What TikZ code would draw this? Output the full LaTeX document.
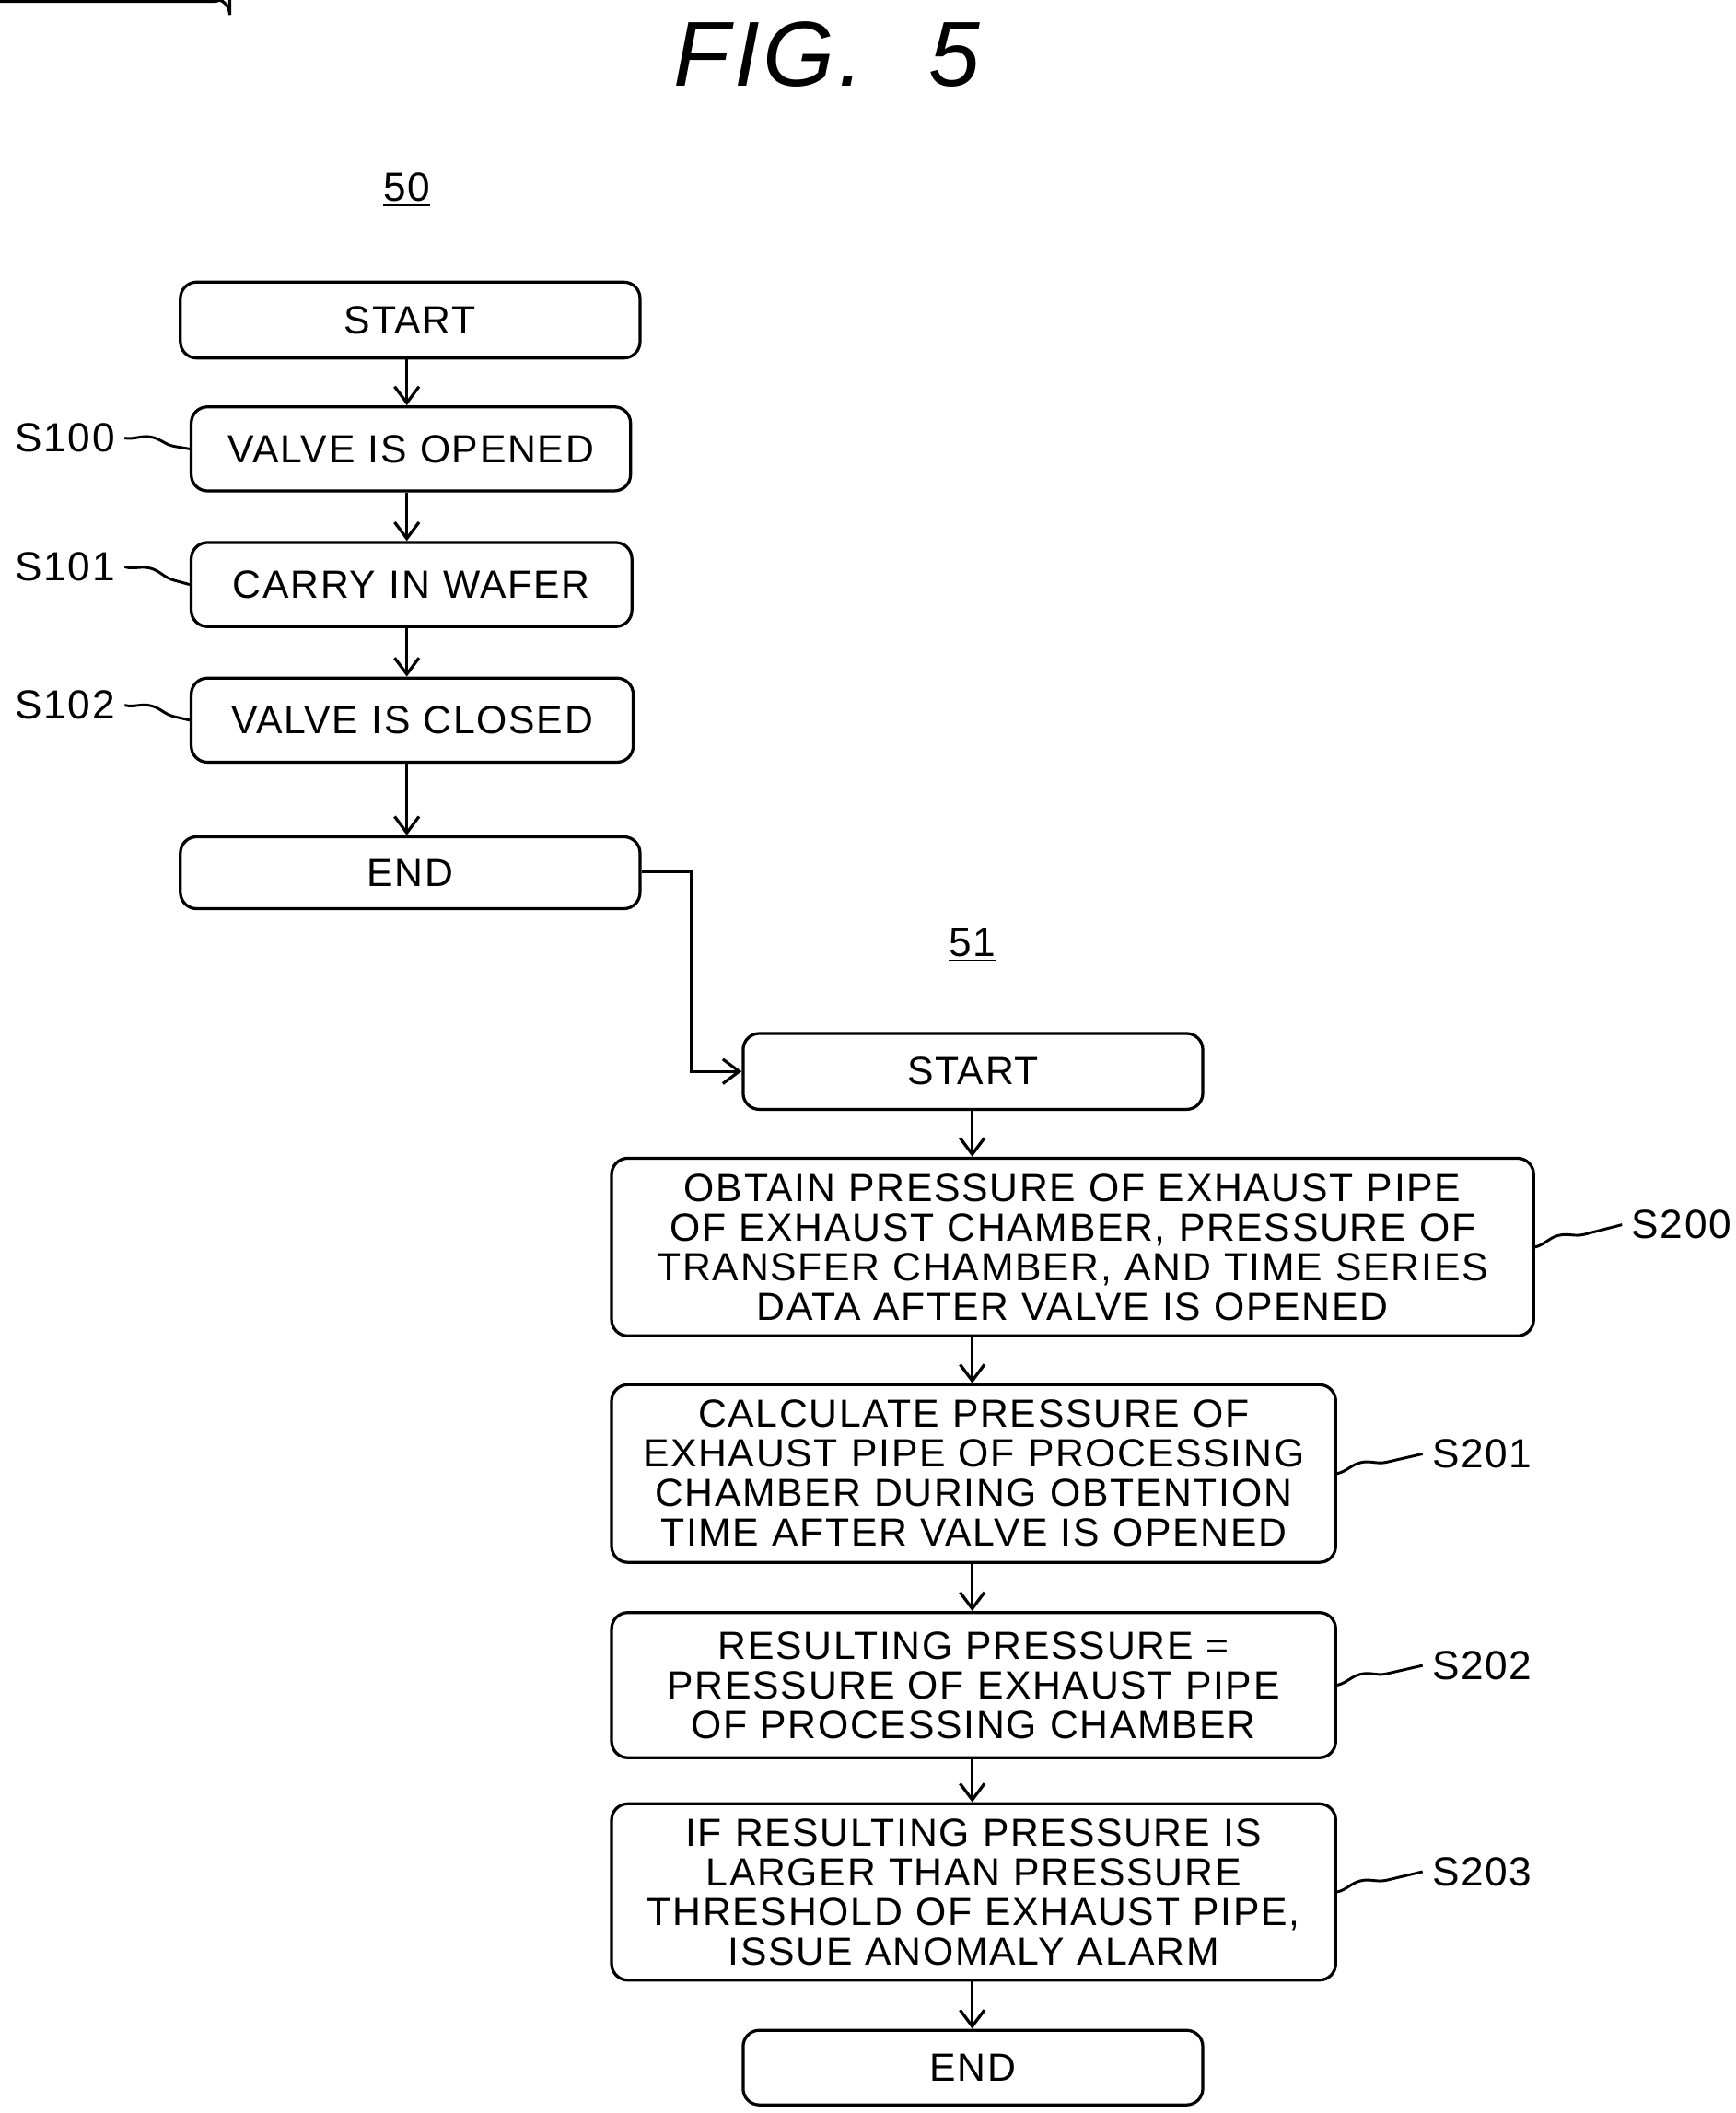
\documentclass[tikz,border=0pt]{standalone}
\usepackage{fontspec}
\setmainfont{Liberation Sans}[WordSpace=2.2,LetterSpace=4]
\usetikzlibrary{arrows.meta,decorations.pathmorphing}
\begin{document}
\begin{tikzpicture}[x=0.5pt,y=-0.5pt,
 box/.style={draw,line width=1.1pt,rounded corners=6pt,inner sep=0pt,align=center,
   font=\fontsize{14.5}{14.6}\selectfont},
 arr/.style={-{Straight Barb[length=6pt,width=9pt]},line width=1.1pt},
 lab/.style={font=\fontsize{15}{16}\selectfont},
 wav/.style={line width=1pt,decorate,decoration={snake,amplitude=2pt,segment length=30pt}}]
\useasboundingbox (0,0) rectangle (1280,1558);
\node[font=\fontsize{34}{36}\selectfont\itshape] (title) at (610,40) {FIG. 5};
\node[lab] (n50) at (300,140) {\underline{50}};
\node[lab] (n51) at (717,697) {\underline{51}};
\node[box,minimum width=339pt/2*2/2,text width=0pt] at (0,0) {};
\newcommand\bx[6]{\node[box,minimum width={(#3-#2)*0.5pt},minimum height={(#5-#4)*0.5pt},text width={(#3-#2)*0.5pt-8pt}] (#1) at ({(#2+#3)/2},{(#4+#5)/2}) {#6};}
\bx{st1}{133}{472}{208}{264}{START}
\bx{s100}{141}{465}{300}{362}{VALVE IS OPENED}
\bx{s101}{141}{466}{400}{462}{CARRY IN WAFER}
\bx{s102}{141}{467}{500}{562}{VALVE IS CLOSED}
\bx{en1}{133}{472}{617}{670}{END}
\bx{st2}{548}{887}{762}{818}{START}
\bx{s200}{451}{1131}{854}{985}{OBTAIN PRESSURE OF EXHAUST PIPE\\OF EXHAUST CHAMBER, PRESSURE OF\\TRANSFER CHAMBER, AND TIME SERIES\\DATA AFTER VALVE IS OPENED}
\bx{s201}{451}{985}{1021}{1152}{CALCULATE PRESSURE OF\\EXHAUST PIPE OF PROCESSING\\CHAMBER DURING OBTENTION\\TIME AFTER VALVE IS OPENED}
\bx{s202}{451}{985}{1189}{1296}{RESULTING PRESSURE =\\PRESSURE OF EXHAUST PIPE\\OF PROCESSING CHAMBER}
\bx{s203}{451}{985}{1330}{1460}{IF RESULTING PRESSURE IS\\LARGER THAN PRESSURE\\THRESHOLD OF EXHAUST PIPE,\\ISSUE ANOMALY ALARM}
\bx{en2}{548}{887}{1497}{1552}{END}
\draw[arr] (st1.south -| 300,0) -- (s100.north -| 300,0);
\draw[arr] (s100.south -| 300,0) -- (s101.north -| 300,0);
\draw[arr] (s101.south -| 300,0) -- (s102.north -| 300,0);
\draw[arr] (s102.south -| 300,0) -- (en1.north -| 300,0);
\coordinate (k1) at (510,643);
\draw[arr] (en1.east |- k1) -- (k1) |- (st2.west);
\draw[arr] (st2.south -| 717,0) -- (s200.north -| 717,0);
\draw[arr] (s200.south -| 717,0) -- (s201.north -| 717,0);
\draw[arr] (s201.south -| 717,0) -- (s202.north -| 717,0);
\draw[arr] (s202.south -| 717,0) -- (s203.north -| 717,0);
\draw[arr] (s203.south -| 717,0) -- (en2.north -| 717,0);
\node[lab] (l100) at (48,323) {S100};
\node[lab] (l101) at (48,418) {S101};
\node[lab] (l102) at (48,520) {S102};
\node[lab] (l200) at (1240,903) {S200};
\node[lab] (l201) at (1093,1072) {S201};
\node[lab] (l202) at (1093,1228) {S202};
\node[lab] (l203) at (1093,1380) {S203};
\draw[wav] (l100.east) -- (s100.west);
\draw[wav] (l101.east) -- (s101.west);
\draw[wav] (l102.east) -- (s102.west);
\draw[wav] (s200.east) -- (l200.west);
\draw[wav] (s201.east) -- (l201.west);
\draw[wav] (s202.east) -- (l202.west);
\draw[wav] (s203.east) -- (l203.west);
\end{tikzpicture}
\end{document}
